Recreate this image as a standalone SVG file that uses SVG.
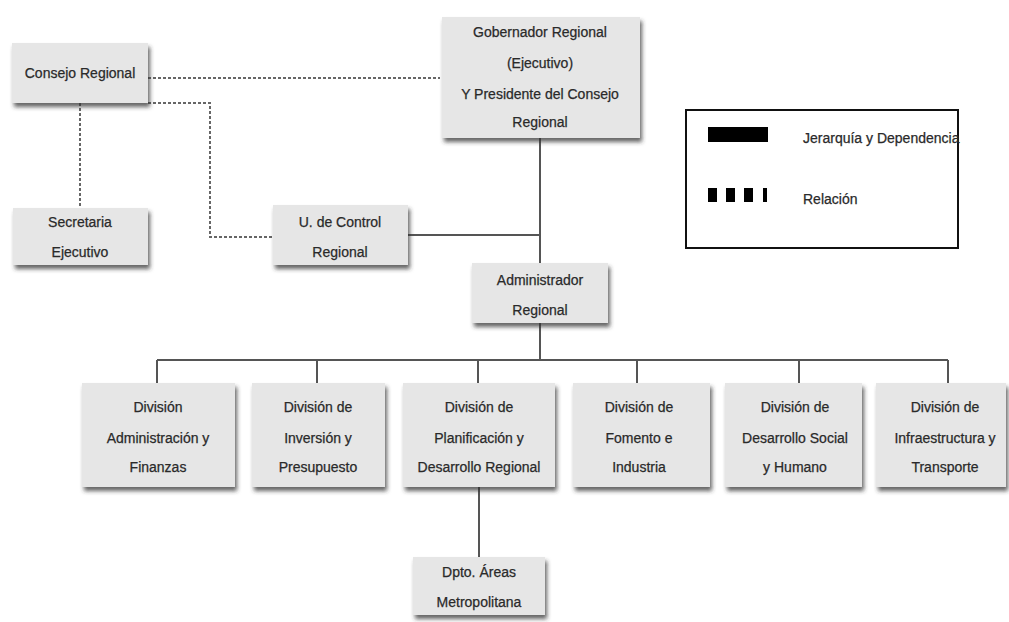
<svg xmlns="http://www.w3.org/2000/svg" width="1009" height="622" viewBox="0 0 1009 622">
<defs>
<filter id="sh" x="-10%" y="-10%" width="125%" height="135%">
<feDropShadow dx="2" dy="4" stdDeviation="2" flood-color="#333" flood-opacity="0.75"/>
</filter>
</defs>
<style>
.box{fill:#e6e6e6;filter:url(#sh)}
.t{font-family:"Liberation Sans",Arial,sans-serif;font-size:14px;fill:#2a2a2a;text-anchor:middle;stroke:#2a2a2a;stroke-width:0.25}
.lt{font-family:"Liberation Sans",Arial,sans-serif;font-size:14px;fill:#2a2a2a;stroke:#2a2a2a;stroke-width:0.25}
.solid{stroke:#555;stroke-width:2;fill:none}
.dot{stroke:#666;stroke-width:2;fill:none;stroke-dasharray:3 2}
</style>
<rect width="1009" height="622" fill="#fff"/>
<g id="connectors">
<path class="dot" d="M148 78H440"/>
<path class="dot" d="M148 103H210V237H273"/>
<path class="dot" d="M80 103V208"/>
<path class="solid" d="M540 138V263"/>
<path class="solid" d="M408 235H540"/>
<path class="solid" d="M540 323V360"/>
<path class="solid" d="M157 360H948"/>
<path class="solid" d="M157 360V383M317 360V383M478 360V383M637 360V383M799 360V383M948 360V383"/>
<path class="solid" d="M479 487V557"/>
</g>
<g id="consejo"><rect class="box" x="12" y="43" width="136" height="60"/><text class="t" x="80" y="78">Consejo Regional</text></g>
<g id="gobernador"><rect class="box" x="442" y="17" width="198" height="121"/>
<text class="t" x="540" y="37">Gobernador Regional</text>
<text class="t" x="540" y="68">(Ejecutivo)</text>
<text class="t" x="540" y="99">Y Presidente del Consejo</text>
<text class="t" x="540" y="127">Regional</text></g>
<g id="secretaria"><rect class="box" x="13" y="208" width="135" height="57"/>
<text class="t" x="80" y="227">Secretaria</text><text class="t" x="80" y="257">Ejecutivo</text></g>
<g id="control"><rect class="box" x="273" y="205" width="135" height="60"/>
<text class="t" x="340" y="227">U. de Control</text><text class="t" x="340" y="257">Regional</text></g>
<g id="administrador"><rect class="box" x="472" y="263" width="136" height="60"/>
<text class="t" x="540" y="285">Administrador</text><text class="t" x="540" y="315">Regional</text></g>
<g id="div1"><rect class="box" x="82" y="383" width="153" height="104"/>
<text class="t" x="158" y="412">División</text><text class="t" x="158" y="443">Administración y</text><text class="t" x="158" y="472">Finanzas</text></g>
<g id="div2"><rect class="box" x="252" y="383" width="133" height="104"/>
<text class="t" x="318" y="412">División de</text><text class="t" x="318" y="443">Inversión y</text><text class="t" x="318" y="472">Presupuesto</text></g>
<g id="div3"><rect class="box" x="403" y="383" width="152" height="104"/>
<text class="t" x="479" y="412">División de</text><text class="t" x="479" y="443">Planificación y</text><text class="t" x="479" y="472">Desarrollo Regional</text></g>
<g id="div4"><rect class="box" x="573" y="383" width="137" height="104"/>
<text class="t" x="639" y="412">División de</text><text class="t" x="639" y="443">Fomento e</text><text class="t" x="639" y="472">Industria</text></g>
<g id="div5"><rect class="box" x="725" y="383" width="137" height="104"/>
<text class="t" x="795" y="412">División de</text><text class="t" x="795" y="443">Desarrollo Social</text><text class="t" x="795" y="472">y Humano</text></g>
<g id="div6"><rect class="box" x="876" y="383" width="130" height="104"/>
<text class="t" x="945" y="412">División de</text><text class="t" x="945" y="443">Infraestructura y</text><text class="t" x="945" y="472">Transporte</text></g>
<g id="dpto"><rect class="box" x="413" y="557" width="132" height="58"/>
<text class="t" x="479" y="577">Dpto. Áreas</text><text class="t" x="479" y="607">Metropolitana</text></g>
<g id="legend">
<rect x="686" y="110" width="272" height="138" fill="#fff" stroke="#111" stroke-width="2"/>
<rect x="708" y="127" width="60" height="15" fill="#000"/>
<rect x="708" y="188" width="9" height="14" fill="#000"/>
<rect x="726" y="188" width="9" height="14" fill="#000"/>
<rect x="744" y="188" width="9" height="14" fill="#000"/>
<rect x="763" y="188" width="4" height="14" fill="#000"/>
<text class="lt" x="803" y="143">Jerarquía y Dependencia</text>
<text class="lt" x="803" y="204">Relación</text>
</g>
</svg>
